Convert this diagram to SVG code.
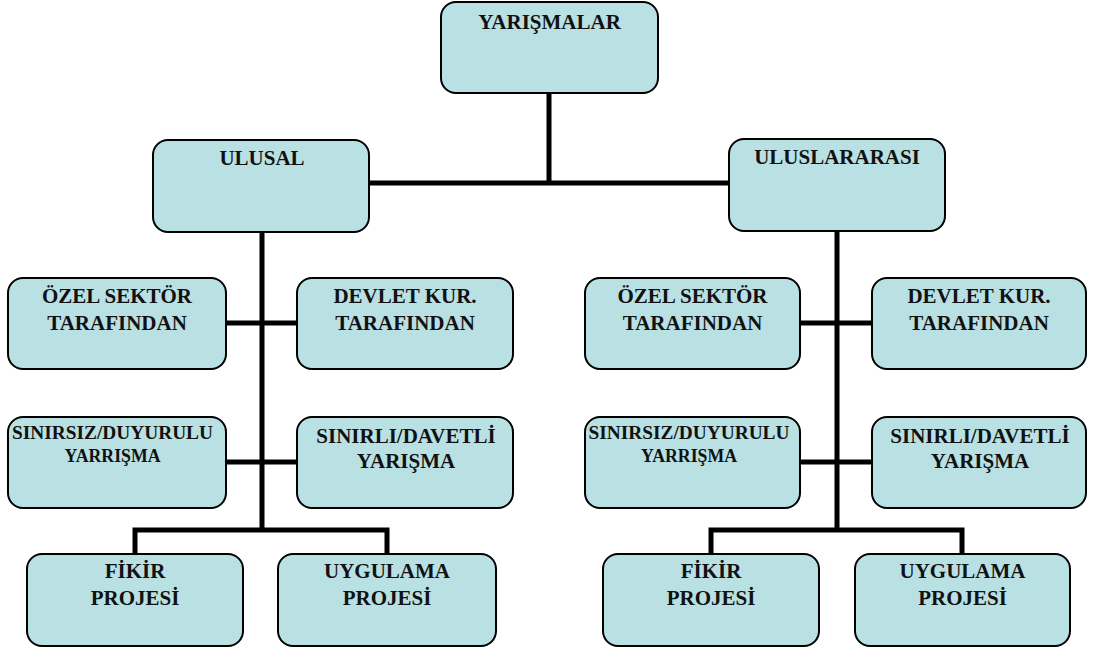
<svg xmlns="http://www.w3.org/2000/svg" width="1094" height="651" viewBox="0 0 1094 651">
<style>
.box{fill:#B9E0E3;stroke:#000;stroke-width:2}
.c{stroke:#000;stroke-width:5;fill:none}
</style>
<rect width="1094" height="651" fill="#fff"/>
<g id="connectors">
<path class="c" d="M549,93V183M369,183H729"/>
<path class="c" d="M262,232V530M226,323H297M226,462H297M135,556V530H387V556"/>
<path class="c" d="M837,231V530M800,323H872M800,462H872M711,556V530H962V556"/>
</g>
<g font-family="Liberation Serif, Times New Roman, Times, DejaVu Serif, serif" font-weight="bold" font-size="21" fill="#111" text-anchor="middle">
<g id="yarismalar"><rect class="box" x="441" y="2" width="217" height="91" rx="15"/><text x="549.5" y="29">YARIŞMALAR</text></g>
<g id="ulusal"><rect class="box" x="153" y="140" width="216" height="92" rx="15"/><text x="262" y="165">ULUSAL</text></g>
<g id="uluslararasi"><rect class="box" x="729" y="139" width="216" height="92" rx="15"/><text x="837" y="164">ULUSLARARASI</text></g>
<g id="l-ozel"><rect class="box" x="8" y="278" width="218" height="91" rx="15"/><text x="117" y="303">ÖZEL SEKTÖR</text><text x="117" y="330">TARAFINDAN</text></g>
<g id="l-devlet"><rect class="box" x="297" y="278" width="216" height="91" rx="15"/><text x="405" y="303">DEVLET KUR.</text><text x="405" y="330">TARAFINDAN</text></g>
<g id="l-sinirsiz"><rect class="box" x="8" y="417" width="218" height="91" rx="15"/><text font-size="18" x="112.5" y="439" textLength="201" lengthAdjust="spacingAndGlyphs">SINIRSIZ/DUYURULU</text><text font-size="18" x="112.5" y="462" textLength="96" lengthAdjust="spacingAndGlyphs">YARRIŞMA</text></g>
<g id="l-sinirli"><rect class="box" x="297" y="417" width="216" height="91" rx="15"/><text x="406" y="443">SINIRLI/DAVETLİ</text><text x="406" y="468">YARIŞMA</text></g>
<g id="l-fikir"><rect class="box" x="27" y="554" width="216" height="92" rx="15"/><text x="135" y="578">FİKİR</text><text x="135" y="605">PROJESİ</text></g>
<g id="l-uygulama"><rect class="box" x="278" y="554" width="218" height="92" rx="15"/><text x="387" y="578">UYGULAMA</text><text x="387" y="605">PROJESİ</text></g>
<g id="r-ozel"><rect class="box" x="585" y="278" width="215" height="91" rx="15"/><text x="692.5" y="303">ÖZEL SEKTÖR</text><text x="692.5" y="330">TARAFINDAN</text></g>
<g id="r-devlet"><rect class="box" x="872" y="278" width="214" height="91" rx="15"/><text x="979" y="303">DEVLET KUR.</text><text x="979" y="330">TARAFINDAN</text></g>
<g id="r-sinirsiz"><rect class="box" x="585" y="417" width="215" height="91" rx="15"/><text font-size="18" x="689" y="439" textLength="201" lengthAdjust="spacingAndGlyphs">SINIRSIZ/DUYURULU</text><text font-size="18" x="689" y="462" textLength="96" lengthAdjust="spacingAndGlyphs">YARRIŞMA</text></g>
<g id="r-sinirli"><rect class="box" x="872" y="417" width="214" height="91" rx="15"/><text x="980" y="443">SINIRLI/DAVETLİ</text><text x="980" y="468">YARIŞMA</text></g>
<g id="r-fikir"><rect class="box" x="603" y="554" width="216" height="92" rx="15"/><text x="711" y="578">FİKİR</text><text x="711" y="605">PROJESİ</text></g>
<g id="r-uygulama"><rect class="box" x="855" y="554" width="215" height="92" rx="15"/><text x="962.5" y="578">UYGULAMA</text><text x="962.5" y="605">PROJESİ</text></g>
</g>
</svg>
